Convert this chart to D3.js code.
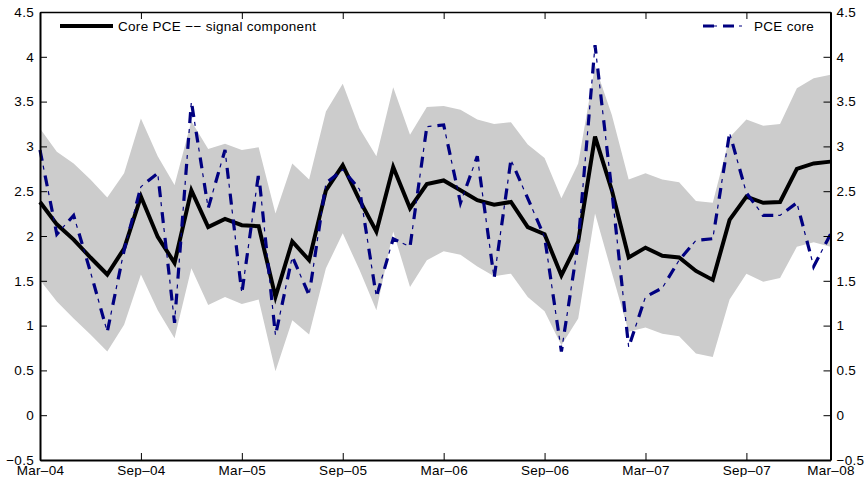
<!DOCTYPE html>
<html>
<head>
<meta charset="utf-8">
<script src="https://cdn.jsdelivr.net/npm/d3@7"></script>
<style>
    body { margin: 0; background: #fff; }
    text { font-family: "Liberation Sans", Arial, sans-serif; }
</style>
</head>
<body>
<div id="my_chart"></div>
<script>

// Monthly observations, Mar-04 .. Feb-08
const months = d3.timeMonth.range(new Date(2004, 2, 1), new Date(2008, 2, 1)).map(d3.timeFormat("%Y-%m"));

// Core PCE -- signal component (black)
const signal = [2.38, 2.13, 1.96, 1.76, 1.57, 1.86, 2.44, 1.99, 1.70, 2.51,
                2.10, 2.19, 2.12, 2.11, 1.32, 1.94, 1.73, 2.51, 2.79, 2.40,
                2.05, 2.77, 2.31, 2.58, 2.62, 2.51, 2.40, 2.35, 2.38, 2.10,
                2.02, 1.56, 1.94, 3.11, 2.51, 1.76, 1.87, 1.78, 1.76, 1.61,
                1.51, 2.18, 2.44, 2.37, 2.38, 2.75, 2.81, 2.83];

// PCE core (blue dash-dot)
const pceCore = [2.96, 2.02, 2.23, 1.60, 0.93, 1.84, 2.55, 2.70, 1.03, 3.50,
                 2.31, 2.96, 1.36, 2.70, 0.89, 1.77, 1.34, 2.59, 2.74, 2.52,
                 1.32, 1.97, 1.88, 3.22, 3.24, 2.37, 2.89, 1.53, 2.85, 2.42,
                 1.99, 0.71, 1.93, 4.13, 2.50, 0.76, 1.32, 1.42, 1.73, 1.95,
                 1.97, 3.15, 2.48, 2.23, 2.23, 2.37, 1.66, 2.02];

// Grey band: upper and lower bounds
const bandUpper = [3.20, 2.94, 2.81, 2.63, 2.43, 2.70, 3.31, 2.89, 2.57, 3.28,
                   2.97, 3.03, 2.96, 2.99, 2.25, 2.81, 2.63, 3.39, 3.70, 3.20,
                   2.89, 3.66, 3.13, 3.44, 3.45, 3.41, 3.30, 3.25, 3.27, 3.02,
                   2.87, 2.42, 2.81, 3.90, 3.35, 2.63, 2.70, 2.63, 2.60, 2.39,
                   2.37, 3.10, 3.30, 3.23, 3.25, 3.65, 3.76, 3.80];
const bandLower = [1.51, 1.27, 1.08, 0.90, 0.71, 1.01, 1.57, 1.17, 0.86, 1.64,
                   1.23, 1.32, 1.24, 1.29, 0.49, 1.06, 0.90, 1.64, 2.03, 1.62,
                   1.17, 2.05, 1.43, 1.73, 1.83, 1.79, 1.66, 1.55, 1.58, 1.32,
                   1.16, 0.78, 1.08, 2.25, 1.59, 0.93, 0.98, 0.91, 0.88, 0.69,
                   0.65, 1.29, 1.58, 1.49, 1.53, 1.88, 1.93, 1.88];

// Tick labels along x, and the month each one sits on
const xTickMonths = ["2004-03", "2004-09", "2005-03", "2005-09", "2006-03", "2006-09", "2007-03", "2007-09", "2008-02"];
const xTickLabels = ["Mar–04", "Sep–04", "Mar–05", "Sep–05", "Mar–06", "Sep–06", "Mar–07", "Sep–07", "Mar–08"];
const yTicks = [-0.5, 0, 0.5, 1, 1.5, 2, 2.5, 3, 3.5, 4, 4.5];

function draw() {
    const W = 864, H = 477;
    const margin = { top: 12, right: 33.5, bottom: 17, left: 40 },
          width = W - margin.left - margin.right,
          height = H - margin.top - margin.bottom;

    const svg = d3.select("#my_chart")
                  .append("svg")
                  .attr("width", W)
                  .attr("height", H)
                  .append("g")
                  .attr("transform", `translate(${margin.left},${margin.top})`);

    const x = d3.scalePoint().domain(months).range([0, width]);
    const y = d3.scaleLinear().domain([-0.5, 4.5]).range([height, 0]);

    const rows = months.map((m, i) => ({ m, signal: signal[i], pce: pceCore[i], hi: bandUpper[i], lo: bandLower[i] }));

    // Band
    svg.append("path")
       .datum(rows)
       .attr("fill", "#cccccc")
       .attr("d", d3.area().x(d => x(d.m)).y0(d => y(d.lo)).y1(d => y(d.hi)));

    // Signal component
    svg.append("path")
       .datum(rows)
       .attr("fill", "none")
       .attr("stroke", "#000")
       .attr("stroke-width", 4)
       .attr("stroke-linejoin", "miter")
       .attr("d", d3.line().x(d => x(d.m)).y(d => y(d.signal)));

    // PCE core: thick dashes plus thin dots
    const pceLine = d3.line().x(d => x(d.m)).y(d => y(d.pce));
    svg.append("path")
       .datum(rows)
       .attr("fill", "none")
       .attr("stroke", "#000080")
       .attr("stroke-width", 1.2)
       .attr("stroke-dasharray", "0,16,4,6")
       .attr("d", pceLine);
    svg.append("path")
       .datum(rows)
       .attr("fill", "none")
       .attr("stroke", "#000080")
       .attr("stroke-width", 3.2)
       .attr("stroke-dasharray", "11,15")
       .attr("d", pceLine);

    // Axes (ticks point inward)
    const fmt = d => d3.format("")(d).replace("-", "\u2212");
    const xTickFmt = d => xTickLabels[xTickMonths.indexOf(d)];

    const gBottom = svg.append("g").attr("transform", `translate(0,${height})`)
       .call(d3.axisBottom(x).tickValues(xTickMonths).tickFormat(xTickFmt).tickSizeInner(-7).tickSizeOuter(0).tickPadding(5));
    const gTop = svg.append("g")
       .call(d3.axisTop(x).tickValues(xTickMonths).tickFormat("").tickSizeInner(-7).tickSizeOuter(0));
    const gLeft = svg.append("g")
       .call(d3.axisLeft(y).tickValues(yTicks).tickFormat(fmt).tickSizeInner(-7).tickSizeOuter(0).tickPadding(6));
    const gRight = svg.append("g").attr("transform", `translate(${width},0)`)
       .call(d3.axisRight(y).tickValues(yTicks).tickFormat(fmt).tickSizeInner(-7).tickSizeOuter(0).tickPadding(6));

    [gBottom, gTop, gLeft, gRight].forEach(g => {
        g.selectAll("text").attr("font-size", 13.5).attr("letter-spacing", "0.3px").attr("fill", "#000")
         .attr("font-family", "'Liberation Sans', Arial, sans-serif");
        g.selectAll("line").attr("stroke", "#000");
        g.select(".domain").attr("stroke", "#000").attr("stroke-width", 1.3);
    });
    gLeft.select(".domain").attr("stroke-width", 2);
    gBottom.select(".domain").attr("stroke-width", 2);
    gRight.select(".domain").attr("stroke-width", 2);

    // Legends
    const leg = svg.append("g").attr("font-size", 13.5).attr("letter-spacing", "0.3px");
    leg.append("line").attr("x1", 20).attr("x2", 73).attr("y1", 14).attr("y2", 14)
       .attr("stroke", "#000").attr("stroke-width", 4);
    leg.append("text").attr("x", 78).attr("y", 14).attr("dy", "0.35em").text("Core PCE \u2212\u2212 signal component");

    leg.append("line").attr("x1", 657).attr("x2", 702).attr("y1", 14).attr("y2", 14)
       .attr("stroke", "#000080").attr("stroke-width", 1.2).attr("stroke-dasharray", "0,16,4,6");
    leg.append("line").attr("x1", 657).attr("x2", 702).attr("y1", 14).attr("y2", 14)
       .attr("stroke", "#000080").attr("stroke-width", 3.2).attr("stroke-dasharray", "0,6,11,9,11,15");
    leg.append("text").attr("x", 714).attr("y", 14).attr("dy", "0.35em").text("PCE core");
}

draw();
</script>
</body>
</html>
